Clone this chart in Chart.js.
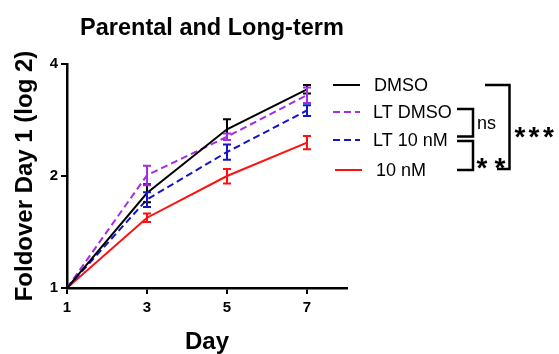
<!DOCTYPE html>
<html lang="en">
<head>
    <meta charset="UTF-8">
    <title>Parental and Long-term</title>
    <script src="https://cdn.jsdelivr.net/npm/chart.js"></script>
    <style>
        html, body { margin: 0; padding: 0; background: #fff; }
        #wrap { position: relative; width: 559px; height: 354px; }
    </style>
</head>
<body>
<div id="wrap">
    <canvas id="chart" width="559" height="354"></canvas>
</div>

<script>
    // data
    const days = [1, 3, 5, 7];
    const xTicks = [1, 3, 5, 7];
    const yTicks = [1, 2, 4];

    const seriesNames = ['DMSO', 'LT DMSO', 'LT 10 nM', '10 nM'];
    const dmso = [1, 1.80, 2.67, 3.42];
    const dmsoErr = [0, 0.10, 0.17, 0.09];
    const ltDmso = [1, 2.01, 2.55, 3.30];
    const ltDmsoErr = [0, 0.12, 0.05, 0.16];
    const lt10nM = [1, 1.73, 2.32, 3.00];
    const lt10nMErr = [0, 0.08, 0.11, 0.10];
    const nM10 = [1, 1.545, 2.00, 2.46];
    const nM10Err = [0, 0.04, 0.09, 0.10];

    const FONT = "'Liberation Sans', Arial, sans-serif";
    Chart.defaults.font.family = FONT;
    Chart.defaults.color = '#000';

    function makeSet(label, values, errs, color, dash) {
        return {
            label: label,
            data: days.map((d, i) => ({x: d, y: values[i]})),
            errors: errs,
            borderColor: color,
            backgroundColor: color,
            borderWidth: 2,
            borderDash: dash,
            pointRadius: 0,
            fill: false,
            tension: 0
        };
    }

    // error bars drawn from the scales
    const errorBars = {
        id: 'errorBars',
        afterDatasetsDraw(chart) {
            const ctx = chart.ctx;
            const xs = chart.scales.x, ys = chart.scales.y;
            chart.data.datasets.forEach(ds => {
                ctx.save();
                ctx.strokeStyle = ds.borderColor;
                ctx.lineWidth = 2;
                ctx.setLineDash([]);
                ds.data.forEach((p, j) => {
                    const e = ds.errors[j];
                    if (!e) return;
                    const x = xs.getPixelForValue(p.x);
                    const yT = ys.getPixelForValue(p.y + e);
                    const yB = ys.getPixelForValue(p.y - e);
                    ctx.beginPath();
                    ctx.moveTo(x, yT); ctx.lineTo(x, yB);
                    ctx.moveTo(x - 4, yT); ctx.lineTo(x + 4, yT);
                    ctx.moveTo(x - 4, yB); ctx.lineTo(x + 4, yB);
                    ctx.stroke();
                });
                ctx.restore();
            });
        }
    };

    // title, legend and significance brackets
    const extras = {
        id: 'extras',
        afterDraw(chart) {
            const ctx = chart.ctx;
            ctx.save();
            ctx.fillStyle = '#000';
            ctx.font = 'bold 23.5px ' + FONT;
            ctx.textAlign = 'center';
            ctx.textBaseline = 'alphabetic';
            ctx.fillText('Parental and Long-term', 212, 35);

            // legend
            const rows = [85, 112, 140, 170];
            const lx = [[333, 360, 374], [333, 360, 373], [333, 360, 373], [335, 362, 376]];
            ctx.font = '18px ' + FONT;
            ctx.textAlign = 'left';
            ctx.textBaseline = 'middle';
            chart.data.datasets.forEach((ds, i) => {
                ctx.strokeStyle = ds.borderColor;
                ctx.lineWidth = 2;
                ctx.setLineDash(ds.borderDash || []);
                ctx.beginPath();
                ctx.moveTo(lx[i][0], rows[i]);
                ctx.lineTo(lx[i][1], rows[i]);
                ctx.stroke();
                ctx.fillText(ds.label, lx[i][2], rows[i] + 1);
            });

            // brackets
            ctx.setLineDash([]);
            ctx.strokeStyle = '#000';
            ctx.lineWidth = 2.5;
            ctx.lineJoin = 'miter';
            ctx.beginPath();
            ctx.moveTo(457, 109); ctx.lineTo(473, 109); ctx.lineTo(473, 136.5); ctx.lineTo(457, 136.5);
            ctx.stroke();
            ctx.beginPath();
            ctx.moveTo(457, 141); ctx.lineTo(473, 141); ctx.lineTo(473, 170); ctx.lineTo(457, 170);
            ctx.stroke();
            ctx.beginPath();
            ctx.moveTo(485, 85); ctx.lineTo(509.5, 85); ctx.lineTo(509.5, 169); ctx.lineTo(497, 169);
            ctx.stroke();

            ctx.font = '18px ' + FONT;
            ctx.textAlign = 'left';
            ctx.fillText('ns', 477, 124);

            // asterisks, centred on their glyph box
            ctx.font = 'bold 28px ' + FONT;
            ctx.textAlign = 'center';
            ctx.textBaseline = 'alphabetic';
            const m = ctx.measureText('*');
            const shift = (m.actualBoundingBoxAscent - m.actualBoundingBoxDescent) / 2;
            [520, 534, 548.5].forEach(x => ctx.fillText('*', x, 132.7 + shift));
            [482, 500].forEach(x => ctx.fillText('*', x, 163.5 + shift));
            ctx.restore();
        }
    };

    const ctx = document.getElementById('chart').getContext('2d');
    new Chart(ctx, {
        type: 'line',
        data: {
            datasets: [
                makeSet(seriesNames[0], dmso, dmsoErr, '#000000', []),
                makeSet(seriesNames[1], ltDmso, ltDmsoErr, '#A42BE8', [7, 4]),
                makeSet(seriesNames[2], lt10nM, lt10nMErr, '#1515C4', [7, 4]),
                makeSet(seriesNames[3], nM10, nM10Err, '#FF1010', [])
            ]
        },
        options: {
            responsive: false,
            animation: false,
            devicePixelRatio: 1,
            layout: {padding: {top: 64, right: 212, left: 0, bottom: 0}},
            plugins: {
                legend: {display: false},
                title: {display: false},
                tooltip: {enabled: false}
            },
            scales: {
                x: {
                    type: 'linear',
                    min: 1,
                    max: 8,
                    afterBuildTicks: s => { s.ticks = xTicks.map(v => ({value: v})); },
                    afterFit: s => { s.height = 66; },
                    border: {display: true, color: '#000', width: 2.5},
                    grid: {drawOnChartArea: false, drawTicks: true, tickLength: 6, color: '#000', lineWidth: 2},
                    ticks: {font: {size: 15, weight: 'bold'}, padding: 5, maxRotation: 0},
                    title: {display: true, text: 'Day', font: {size: 24, weight: 'bold', lineHeight: 1}, padding: {top: 0, bottom: 0}}
                },
                y: {
                    type: 'logarithmic',
                    min: 1,
                    max: 4,
                    afterBuildTicks: s => { s.ticks = yTicks.map(v => ({value: v})); },
                    afterFit: s => { s.width = 67; },
                    border: {display: true, color: '#000', width: 2.5},
                    grid: {drawOnChartArea: false, drawTicks: true, tickLength: 6, color: '#000', lineWidth: 2},
                    ticks: {font: {size: 15, weight: 'bold'}, padding: 3, callback: v => String(v)},
                    title: {display: true, text: 'Foldover Day 1 (log 2)', font: {size: 24, weight: 'bold', lineHeight: 1}, padding: {top: 13, bottom: 0}}
                }
            }
        },
        plugins: [errorBars, extras]
    });
</script>
</body>
</html>
